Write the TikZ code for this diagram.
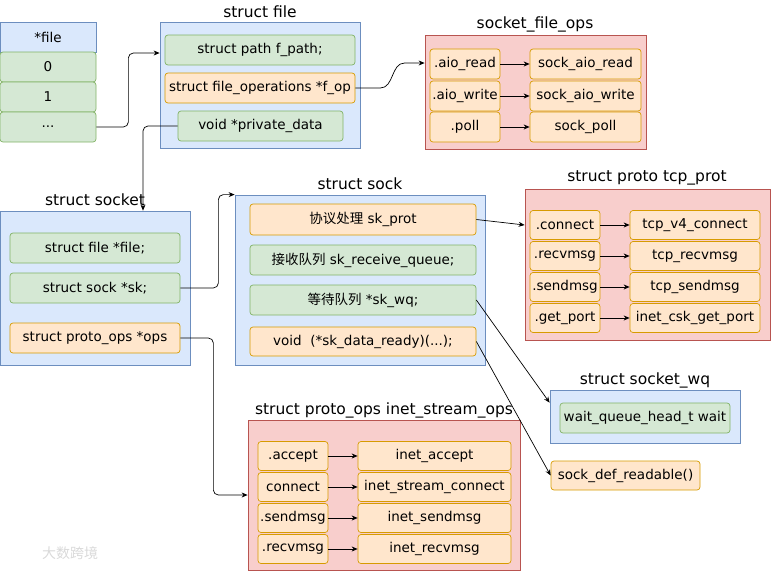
\documentclass[tikz,border=0pt]{standalone}
\usepackage{fontspec}
\setmainfont{DejaVu Sans}
\newfontfamily\cjk{Noto Sans CJK SC}
\usepackage{tikz}
\usetikzlibrary{calc,arrows.meta}
\definecolor{bluefill}{HTML}{DAE8FC}
\definecolor{blueline}{HTML}{6C8EBF}
\definecolor{greenfill}{HTML}{D5E8D4}
\definecolor{greenline}{HTML}{82B366}
\definecolor{orangefill}{HTML}{FFE6CC}
\definecolor{orangeline}{HTML}{D79B00}
\definecolor{redfill}{HTML}{F8CECC}
\definecolor{redline}{HTML}{B85450}
\tikzset{
	bluebox/.style={draw=blueline, fill=bluefill, line width=0.8pt, inner sep=0pt},
	redbox/.style={draw=redline, fill=redfill, line width=0.8pt, inner sep=0pt},
	greencell/.style={draw=greenline, fill=greenfill, line width=0.7pt, rounded corners=3pt, inner sep=0pt},
	orangecell/.style={draw=orangeline, fill=orangefill, line width=0.7pt, rounded corners=3pt, inner sep=0pt},
	bluecell/.style={draw=blueline, fill=bluefill, line width=0.7pt, inner sep=0pt},
	boxtitle/.style={font=\fontsize{15.5}{18}\selectfont},
	arr/.style={-{Stealth[length=6pt,width=5pt]}, line width=0.7pt},
}

\begin{document}
\begin{tikzpicture}[x=1pt, y=-1pt, font=\fontsize{13.5}{16}\selectfont]
			%%%%% START %%%%%
			\useasboundingbox (0,0) rectangle (771,571);
			
			% fd table
			\node[bluecell, minimum width=96pt, minimum height=30pt] (fdhead) at (48,37) {*file};
			\node[greencell, minimum width=96pt, minimum height=30pt] (fd0) at (48,67) {0};
			\node[greencell, minimum width=96pt, minimum height=30pt] (fd1) at (48,97) {1};
			\node[greencell, minimum width=96pt, minimum height=30pt] (fddots) at (48,127) {...};
			
			% struct file
			\node[bluebox, minimum width=200pt, minimum height=126pt] (file) at (260,85) {};
			\node[boxtitle] (filetitle) at (260,12) {struct file};
			\node[greencell, minimum width=190pt, minimum height=30pt] (fpath) at (260,50) {struct path f\_path;};
			\node[orangecell, minimum width=190pt, minimum height=30pt] (fop) at (260,88) {struct file\_operations *f\_op};
			\node[greencell, minimum width=165pt, minimum height=30pt] (priv) at (260.5,126) {void *private\_data};
			
			% socket_file_ops
			\node[redbox, minimum width=221pt, minimum height=114pt] (fops) at (535.5,92) {};
			\node[boxtitle] (fopstitle) at (535,24) {socket\_file\_ops};
			\node[orangecell, minimum width=70pt, minimum height=30pt] (aioread) at (465,64) {.aio\_read};
			\node[orangecell, minimum width=70pt, minimum height=30pt] (aiowrite) at (465,96) {.aio\_write};
			\node[orangecell, minimum width=70pt, minimum height=30pt] (poll) at (465,127) {.poll};
			\node[orangecell, minimum width=111pt, minimum height=30pt] (sockaioread) at (585.5,64) {sock\_aio\_read};
			\node[orangecell, minimum width=111pt, minimum height=30pt] (sockaiowrite) at (585.5,96) {sock\_aio\_write};
			\node[orangecell, minimum width=111pt, minimum height=30pt] (sockpoll) at (585.5,127) {sock\_poll};
			
			% struct socket
			\node[bluebox, minimum width=190pt, minimum height=154pt] (socket) at (95,288) {};
			\node[boxtitle] (sockettitle) at (95,200) {struct socket};
			\node[greencell, minimum width=170pt, minimum height=30pt] (sfile) at (95,248) {struct file *file;};
			\node[greencell, minimum width=170pt, minimum height=30pt] (ssk) at (95,288) {struct sock *sk;};
			\node[orangecell, minimum width=170pt, minimum height=30pt] (sops) at (95,338) {struct proto\_ops *ops};
			
			% struct sock
			\node[bluebox, minimum width=250pt, minimum height=170pt] (sock) at (360,280) {};
			\node[boxtitle] (socktitle) at (360,184) {struct sock};
			\node[orangecell, minimum width=226pt, minimum height=31pt] (skprot) at (363,219.5) {{\cjk 协议处理} sk\_prot};
			\node[greencell, minimum width=226pt, minimum height=30pt] (skrecv) at (363,260) {{\cjk 接收队列} sk\_receive\_queue;};
			\node[greencell, minimum width=226pt, minimum height=30pt] (skwq) at (363,300) {{\cjk 等待队列} *sk\_wq;};
			\node[orangecell, minimum width=226pt, minimum height=29pt] (skready) at (363,341.5) {void\ \ (*sk\_data\_ready)(...);};
			
			% struct proto tcp_prot
			\node[redbox, minimum width=245pt, minimum height=151pt] (tcp) at (647.5,264.5) {};
			\node[boxtitle] (tcptitle) at (647,178) {struct proto tcp\_prot};
			\node[orangecell, minimum width=70pt, minimum height=29pt] (connect) at (565,225) {.connect};
			\node[orangecell, minimum width=70pt, minimum height=29pt] (recvmsg) at (565,256) {.recvmsg};
			\node[orangecell, minimum width=70pt, minimum height=29pt] (sendmsg) at (565,287) {.sendmsg};
			\node[orangecell, minimum width=70pt, minimum height=29pt] (getport) at (565,318) {.get\_port};
			\node[orangecell, minimum width=130pt, minimum height=29pt] (tcpconnect) at (695,225) {tcp\_v4\_connect};
			\node[orangecell, minimum width=130pt, minimum height=29pt] (tcprecvmsg) at (695,256) {tcp\_recvmsg};
			\node[orangecell, minimum width=130pt, minimum height=29pt] (tcpsendmsg) at (695,287) {tcp\_sendmsg};
			\node[orangecell, minimum width=130pt, minimum height=29pt] (inetgetport) at (695,318) {inet\_csk\_get\_port};
			
			% struct socket_wq
			\node[bluebox, minimum width=190pt, minimum height=53pt] (wq) at (645,416.5) {};
			\node[boxtitle] (wqtitle) at (645,380) {struct socket\_wq};
			\node[greencell, minimum width=170pt, minimum height=30pt] (wait) at (645,418) {wait\_queue\_head\_t wait};
			
			\node[orangecell, minimum width=149pt, minimum height=29pt] (sockdef) at (625.5,475.5) {sock\_def\_readable()};
			
			% struct proto_ops inet_stream_ops
			\node[redbox, minimum width=272pt, minimum height=150pt] (inet) at (384,495) {};
			\node[boxtitle] (inettitle) at (384,410) {struct proto\_ops inet\_stream\_ops};
			\node[orangecell, minimum width=70pt, minimum height=29pt] (accept) at (293,456) {.accept};
			\node[orangecell, minimum width=70pt, minimum height=29pt] (iconnect) at (293,487) {connect};
			\node[orangecell, minimum width=70pt, minimum height=29pt] (isendmsg) at (293,518) {.sendmsg};
			\node[orangecell, minimum width=70pt, minimum height=29pt] (irecvmsg) at (293,549) {.recvmsg};
			\node[orangecell, minimum width=153pt, minimum height=29pt] (inetaccept) at (434.5,456) {inet\_accept};
			\node[orangecell, minimum width=153pt, minimum height=29pt] (inetconnect) at (434.5,487) {inet\_stream\_connect};
			\node[orangecell, minimum width=153pt, minimum height=29pt] (inetsendmsg) at (434.5,518) {inet\_sendmsg};
			\node[orangecell, minimum width=153pt, minimum height=29pt] (inetrecvmsg) at (434.5,549) {inet\_recvmsg};
			
			% links between structs
			\draw[arr, rounded corners=5pt] (fddots.east) -- ++(32,0) |- ($(file.west)+(0,-32)$);
			\draw[arr] (fop.east) -- ++(25,0) to[out=0,in=180] ($(fops.west |- aioread)+(-20,-1)$) -- ($(fops.west |- aioread)+(0,-1)$);
			\draw[arr, rounded corners=5pt] (priv.west) -| ($(socket.north)+(48,0)$);
			\draw[arr, rounded corners=5pt] (ssk.east) -- ++(38,0) |- (sock.north west);
			\draw[arr, rounded corners=5pt] (sops.east) -- ++(33,0) |- (inet.west);
			\draw[arr] (skprot.east) -- (tcp.west |- connect);
			\draw[arr] (skwq.east) -- (wq.west |- wait.north);
			\draw[arr] (skready.east) -- (sockdef.west);
			
			% fields to functions
			\draw[arr] (aioread) -- (sockaioread);
			\draw[arr] (aiowrite) -- (sockaiowrite);
			\draw[arr] (poll) -- (sockpoll);
			\draw[arr] (connect) -- (tcpconnect);
			\draw[arr] (recvmsg) -- (tcprecvmsg);
			\draw[arr] (sendmsg) -- (tcpsendmsg);
			\draw[arr] (getport) -- (inetgetport);
			\draw[arr] (accept) -- (inetaccept);
			\draw[arr] (iconnect) -- (inetconnect);
			\draw[arr] (isendmsg) -- (inetsendmsg);
			\draw[arr] (irecvmsg) -- (inetrecvmsg);
			
			\node[text=gray!30, font=\cjk\fontsize{14}{16}\selectfont] (mark) at (70,553) {大数跨境};
			%%%%% END %%%%%
\end{tikzpicture}
\end{document}
